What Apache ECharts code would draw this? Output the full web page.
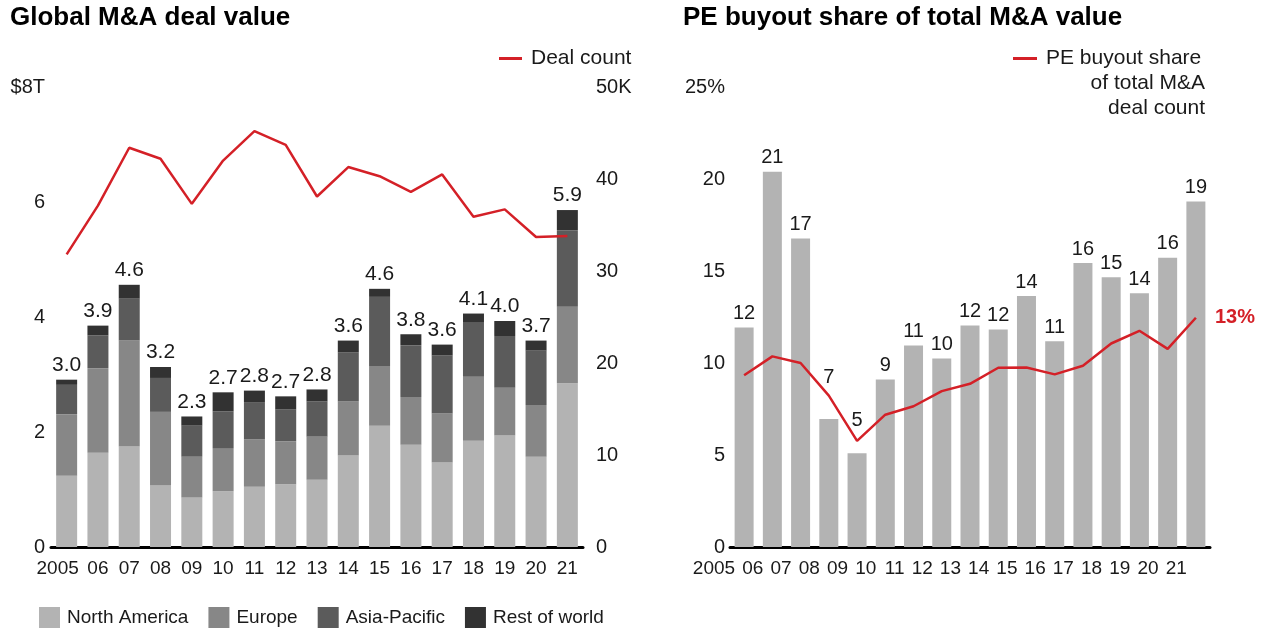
<!DOCTYPE html>
<html>
<head>
<meta charset="utf-8">
<script src="https://cdn.jsdelivr.net/npm/echarts@6/dist/echarts.min.js"></script>
<style>
html,body{margin:0;padding:0;background:#fff;}
#c{width:1265px;height:630px;}
</style>
</head>
<body>
<div id="c"></div>
<script>
const years = ['2005','06','07','08','09','10','11','12','13','14','15','16','17','18','19','20','21'];
const northAmerica = [1.24,1.64,1.75,1.07,0.86,0.97,1.05,1.09,1.17,1.59,2.11,1.78,1.47,1.85,1.94,1.57,2.85];
const europe       = [1.07,1.47,1.84,1.28,0.71,0.75,0.82,0.75,0.75,0.94,1.04,0.83,0.85,1.11,0.83,0.90,1.33];
const asiaPacific  = [0.51,0.57,0.73,0.59,0.54,0.64,0.64,0.55,0.61,0.85,1.20,0.90,1.01,0.94,0.90,0.95,1.33];
const restOfWorld  = [0.09,0.17,0.24,0.19,0.16,0.33,0.21,0.23,0.21,0.21,0.14,0.19,0.19,0.16,0.26,0.17,0.35];
const totalLabels  = ['3.0','3.9','4.6','3.2','2.3','2.7','2.8','2.7','2.8','3.6','4.6','3.8','3.6','4.1','4.0','3.7','5.9'];
const dealCount    = [31.8,37.1,43.4,42.2,37.3,42.0,45.2,43.7,38.1,41.3,40.3,38.6,40.5,35.9,36.7,33.7,33.8];
const peShareValue = [11.93,20.4,16.76,6.96,5.1,9.1,10.95,10.24,12.04,11.82,13.64,11.18,15.43,14.66,13.79,15.72,18.78];
const peShareLabels= ['12','21','17','7','5','9','11','10','12','12','14','11','16','15','14','16','19'];
const peShareCount = [9.33,10.36,10.0,8.23,5.77,7.19,7.65,8.47,8.87,9.74,9.76,9.38,9.85,11.06,11.75,10.77,12.46];
const peEndLabel = '13%';
const leftTicksTop = '$8T', rightTicksTop = '50K', pctTop = '25%';

const FONT = '"Liberation Sans", Arial, sans-serif';
const TXT = '#1a1a1a';
const RED = '#d42027';
const C = ['#b3b3b3','#878787','#5b5b5b','#323232'];

// labels lifted above the red line (styling, not data)
const labelLift = {3: -27, 4: -19};
const peBarData = peShareValue.map((v, i) => labelLift[i] !== undefined
  ? {value: v, label: {offset: [0, labelLift[i]]}}
  : v);

const chart = echarts.init(document.getElementById('c'), null, {renderer:'canvas'});
const axisLab = (extra) => Object.assign({color:TXT, fontSize:20, fontFamily:FONT}, extra||{});

chart.setOption({
  animation:false,
  textStyle:{fontFamily:FONT, color:TXT},
  title:[
    {text:'Global M&A deal value', left:10, top:5, padding:0, textStyle:{fontSize:26, fontWeight:'bold', color:'#000', fontFamily:FONT}},
    {text:'PE buyout share of total M&A value', left:683, top:5, padding:0, textStyle:{fontSize:26, fontWeight:'bold', color:'#000', fontFamily:FONT}},
    {text:'of total M&A', right:60, top:73, padding:0, textStyle:{fontSize:21, fontWeight:'normal', color:TXT, fontFamily:FONT}},
    {text:'deal count', right:60, top:98, padding:0, textStyle:{fontSize:21, fontWeight:'normal', color:TXT, fontFamily:FONT}}
  ],
  legend:[
    {data:['North America','Europe','Asia-Pacific','Rest of world'], left:39, top:607, padding:0, icon:'rect', itemWidth:21, itemHeight:21, itemGap:20,
     textStyle:{fontSize:19, color:TXT, fontFamily:FONT, padding:[0,0,0,2]}},
    {data:['Deal count'], left:499, top:48, padding:0, icon:'rect', itemWidth:23, itemHeight:3,
     textStyle:{fontSize:21, color:TXT, fontFamily:FONT, padding:[0,0,0,4]}},
    {data:['PE buyout share'], left:1013, top:48, padding:0, icon:'rect', itemWidth:24, itemHeight:3,
     textStyle:{fontSize:21, color:TXT, fontFamily:FONT, padding:[0,0,0,4]}}
  ],
  grid:[
    {left:51, right:682, top:87, bottom:83},
    {left:730, right:55, top:87, bottom:83}
  ],
  xAxis:[
    {type:'category', gridIndex:0, data:years, axisTick:{show:false},
     axisLine:{lineStyle:{color:'#000', width:3}},
     axisLabel:axisLab({fontSize:19, margin:12, interval:0,
       formatter:(v,i)=> i===0 ? '{a|'+v+'}' : v,
       rich:{a:{fontSize:19, color:TXT, fontFamily:FONT, padding:[0,18,0,0]}}})},
    {type:'category', gridIndex:1, data:years, axisTick:{show:false},
     axisLine:{lineStyle:{color:'#000', width:3}},
     axisLabel:axisLab({fontSize:19, margin:12, interval:0, align:'right', padding:[0,9,0,0]})}
  ],
  yAxis:[
    {type:'value', gridIndex:0, min:0, max:8, interval:2, splitLine:{show:false}, axisLine:{show:false}, axisTick:{show:false},
     axisLabel:axisLab({margin:6, formatter:v=> v===8 ? leftTicksTop : String(v)})},
    {type:'value', gridIndex:0, position:'right', min:0, max:50, interval:10, splitLine:{show:false}, axisLine:{show:false}, axisTick:{show:false},
     axisLabel:axisLab({margin:13, formatter:v=> v===50 ? rightTicksTop : String(v)})},
    {type:'value', gridIndex:1, min:0, max:25, interval:5, splitLine:{show:false}, axisLine:{show:false}, axisTick:{show:false},
     axisLabel:axisLab({margin:5, formatter:v=> v===25 ? pctTop : String(v)})}
  ],
  series:[
    {name:'North America', type:'bar', stack:'v', xAxisIndex:0, yAxisIndex:0, data:northAmerica, barWidth:21, itemStyle:{color:C[0]}},
    {name:'Europe', type:'bar', stack:'v', xAxisIndex:0, yAxisIndex:0, data:europe, itemStyle:{color:C[1]}},
    {name:'Asia-Pacific', type:'bar', stack:'v', xAxisIndex:0, yAxisIndex:0, data:asiaPacific, itemStyle:{color:C[2]}},
    {name:'Rest of world', type:'bar', stack:'v', xAxisIndex:0, yAxisIndex:0, data:restOfWorld, itemStyle:{color:C[3]},
     label:{show:true, position:'top', distance:4, fontSize:21, color:TXT, fontFamily:FONT, formatter:p=>totalLabels[p.dataIndex]}},
    {name:'Deal count', type:'line', xAxisIndex:0, yAxisIndex:1, data:dealCount, symbol:'none', lineStyle:{color:RED, width:2.5}, itemStyle:{color:RED}, z:5},
    {name:'PE share of value', type:'bar', xAxisIndex:1, yAxisIndex:2, data:peBarData, barWidth:19, itemStyle:{color:C[0]},
     label:{show:true, position:'top', distance:4, fontSize:20, color:TXT, fontFamily:FONT, formatter:p=>peShareLabels[p.dataIndex]}},
    {name:'PE buyout share', type:'line', xAxisIndex:1, yAxisIndex:2, data:peShareCount, symbol:'none', lineStyle:{color:RED, width:2.5}, itemStyle:{color:RED}, z:5,
     endLabel:{show:true, formatter:()=>peEndLabel, distance:19, color:RED, fontSize:20, fontWeight:'bold', fontFamily:FONT}}
  ]
});
</script>
</body>
</html>
